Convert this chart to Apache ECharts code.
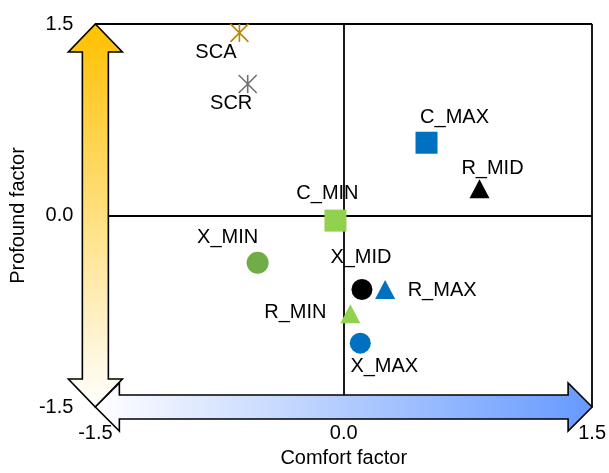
<!DOCTYPE html>
<html><head><meta charset="utf-8">
<script src="https://cdn.jsdelivr.net/npm/echarts@6/dist/echarts.min.js"></script>
<style>html,body{margin:0;padding:0;background:#fff}#c{width:609px;height:473px}</style>
</head><body><div id="c"></div>
<script>
// ---- data ----
const names    = ['SCA','SCR','C_MAX','R_MID','C_MIN','X_MIN','X_MID','R_MAX','R_MIN','X_MAX'];
const comfort  = [-0.63,-0.58, 0.50, 0.82,-0.05,-0.52, 0.11, 0.25, 0.04, 0.10];
const profound = [ 1.43, 1.03, 0.57, 0.21,-0.04,-0.37,-0.58,-0.58,-0.77,-1.00];
const axisMin = -1.5, axisMax = 1.5, axisStep = 1.5;
const xName = 'Comfort factor', yName = 'Profound factor';

// ---- styles (per name) ----
const star = 'path://M9,0L9,18M0,0L18,18M0,18L18,0';
const style = {
  SCA:   {symbol: star, size: 18, color: '#b8860b', stroke: true, off: [-21, 22]},
  SCR:   {symbol: star, size: 18, color: '#707070', stroke: true, off: [-14, 22]},
  C_MAX: {symbol: 'rect', size: 22, color: '#0070c0', off: [28, -25]},
  R_MID: {symbol: 'triangle', size: [20, 19], color: '#000000', off: [13, -20]},
  C_MIN: {symbol: 'rect', size: 22, color: '#92d050', off: [-8, -27]},
  X_MIN: {symbol: 'circle', size: 22, color: '#70ad47', off: [-30, -25]},
  X_MID: {symbol: 'circle', size: 21, color: '#000000', off: [-1, -32]},
  R_MAX: {symbol: 'triangle', size: [20, 19], color: '#0070c0', off: [57, 1]},
  R_MIN: {symbol: 'triangle', size: [20, 19], color: '#92d050', off: [-55, -1]},
  X_MAX: {symbol: 'circle', size: 21, color: '#0070c0', off: [24, 23]}
};
const FONT = 'Liberation Sans, Arial, sans-serif';

const pts = names.map((n, i) => {
  const s = style[n];
  const w = Array.isArray(s.size) ? s.size[0] : s.size;
  const h = Array.isArray(s.size) ? s.size[1] : s.size;
  return {
    name: n,
    value: [comfort[i], profound[i]],
    symbol: s.symbol,
    symbolSize: s.size,
    itemStyle: s.stroke ? {color: 'none', borderColor: s.color, borderWidth: 1.6, opacity: 1}
                        : {color: s.color, borderWidth: 0, opacity: 1},
    label: {show: true, formatter: n, position: [w / 2 + s.off[0], h / 2 + s.off[1]],
            align: 'center', verticalAlign: 'middle',
            color: '#000', fontSize: 20, fontFamily: FONT}
  };
});

function arrows(params, api) {
  const tl = api.coord([axisMin, axisMax]);
  const br = api.coord([axisMax, axisMin]);
  const x0 = tl[0], y0 = tl[1], x1 = br[0], y1 = br[1];
  const vs = 13, vh = 27, vl = 28;
  const vPts = [
    [x0, y0], [x0 + vh, y0 + vl], [x0 + vs, y0 + vl], [x0 + vs, y1 - vl],
    [x0 + vh, y1 - vl], [x0, y1], [x0 - vh, y1 - vl], [x0 - vs, y1 - vl],
    [x0 - vs, y0 + vl], [x0 - vh, y0 + vl]
  ];
  const hs = 12, hh = 24, hl = 24;
  const hPts = [
    [x0, y1], [x0 + hl, y1 - hh], [x0 + hl, y1 - hs], [x1 - hl, y1 - hs],
    [x1 - hl, y1 - hh], [x1, y1], [x1 - hl, y1 + hh], [x1 - hl, y1 + hs],
    [x0 + hl, y1 + hs], [x0 + hl, y1 + hh]
  ];
  return {type: 'group', children: [
    {type: 'polygon', shape: {points: vPts}, z2: 1,
     style: {fill: new echarts.graphic.LinearGradient(0, 0, 0, 1, [
        {offset: 0, color: '#ffc000'}, {offset: 1, color: '#ffffff'}]),
       stroke: '#000', lineWidth: 1.6}},
    {type: 'polygon', shape: {points: hPts}, z2: 2,
     style: {fill: new echarts.graphic.LinearGradient(0, 0, 1, 0, [
        {offset: 0, color: '#ffffff'}, {offset: 1, color: '#6699ff'}]),
       stroke: '#000', lineWidth: 1.6}}
  ]};
}

const chart = echarts.init(document.getElementById('c'), null, {renderer: 'canvas'});
const axisCommon = {
  type: 'value', min: axisMin, max: axisMax, interval: axisStep,
  axisLine: {show: false}, axisTick: {show: false},
  splitLine: {show: true, lineStyle: {color: '#000', width: 1.8}},
  axisLabel: {formatter: v => v.toFixed(1), color: '#000', fontSize: 20, fontFamily: FONT},
  nameLocation: 'middle',
  nameTextStyle: {color: '#000', fontSize: 20, fontFamily: FONT}
};
chart.setOption({
  animation: false,
  backgroundColor: '#fff',
  grid: {left: 92, right: 12, top: 24, bottom: 61, containLabel: false},
  xAxis: Object.assign({}, axisCommon, {name: xName, nameGap: 41,
    axisLabel: Object.assign({}, axisCommon.axisLabel, {margin: 16})}),
  yAxis: Object.assign({}, axisCommon, {name: yName, nameGap: 62,
    axisLabel: Object.assign({}, axisCommon.axisLabel, {margin: 22})}),
  series: [
    {type: 'custom', renderItem: arrows, data: [[0, 0]], z: 1, silent: true, clip: false},
    {type: 'scatter', data: pts, z: 3, labelLayout: {hideOverlap: false},
     emphasis: {disabled: true}}
  ]
});
</script></body></html>
